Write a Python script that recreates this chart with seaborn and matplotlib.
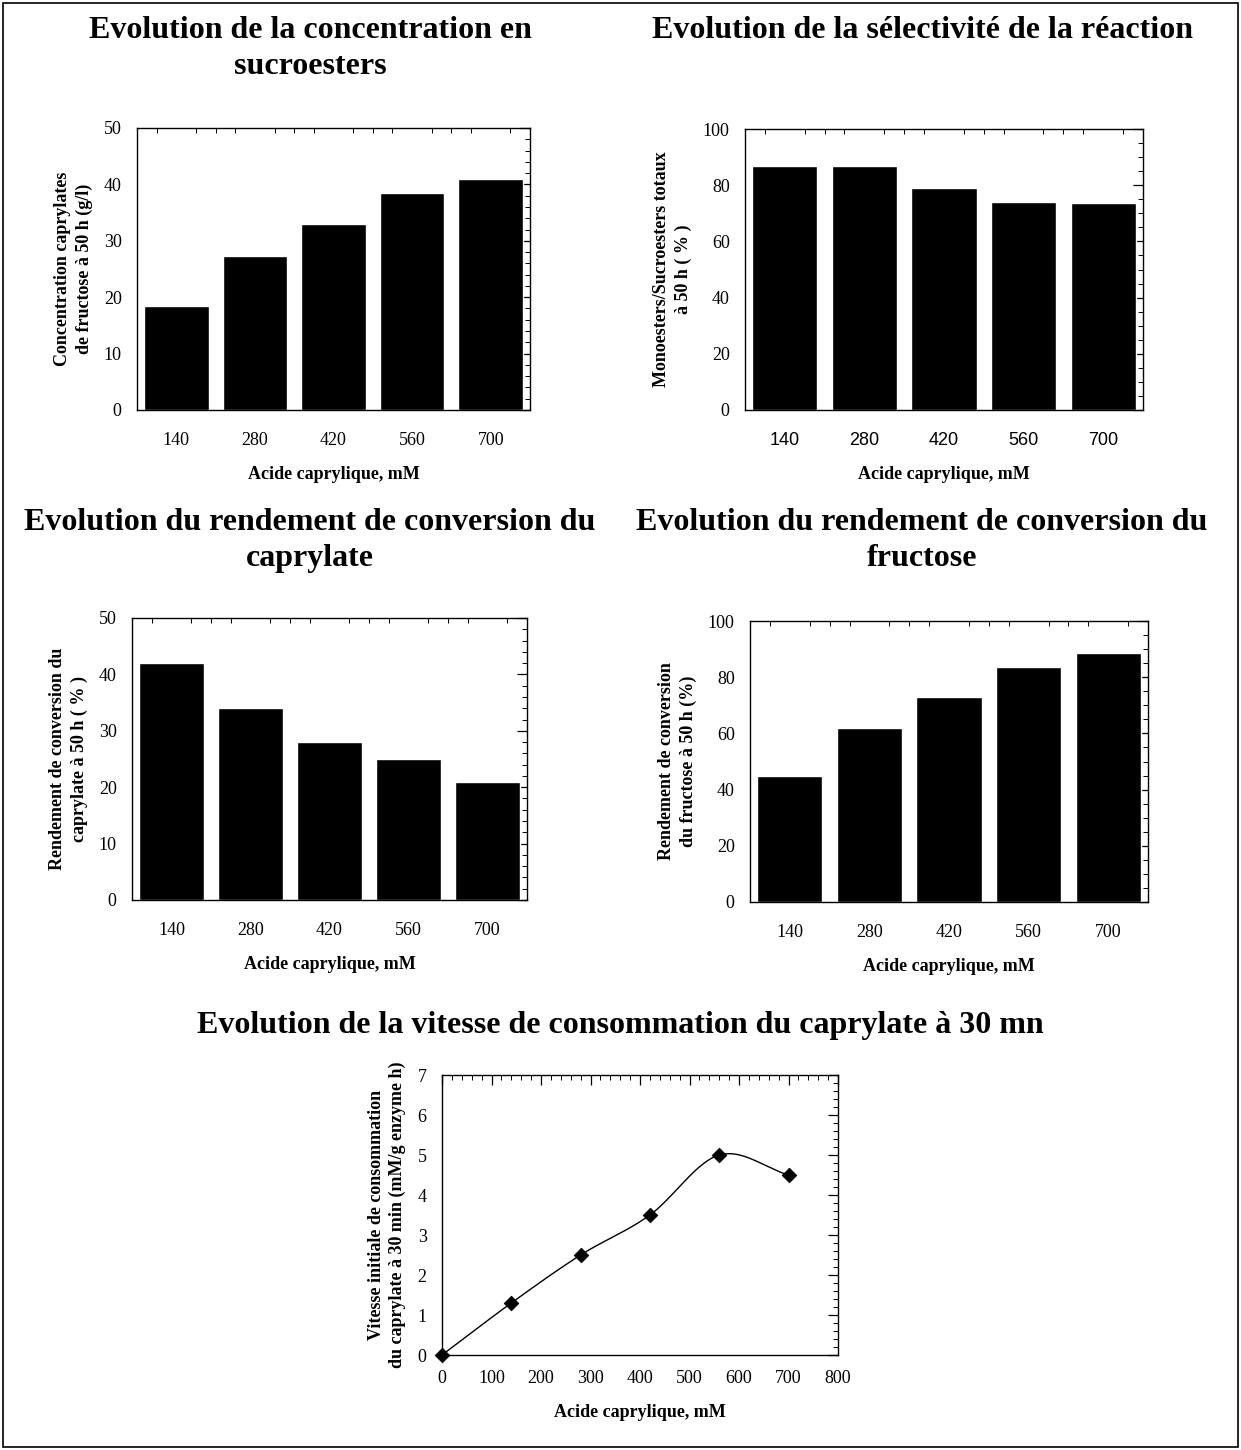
import numpy as np
import matplotlib
matplotlib.use("Agg")
import matplotlib.pyplot as plt
import seaborn as sns

sns.set_theme(style="white")
plt.rcParams['font.family'] = ['Liberation Serif', 'DejaVu Serif']
plt.rcParams['text.color'] = 'black'
plt.rcParams['axes.labelcolor'] = 'black'
plt.rcParams['xtick.color'] = 'black'
plt.rcParams['ytick.color'] = 'black'

# data
conc_labels = ["140", "280", "420", "560", "700"]
sucroesters = [18.5, 27.3, 33.0, 38.5, 41.0]
selectivite = [87.0, 87.0, 79.0, 74.0, 73.8]
rdt_caprylate = [42.0, 34.0, 28.0, 25.0, 21.0]
rdt_fructose = [45.0, 62.0, 73.0, 83.6, 88.7]
vit_x = [0, 140, 280, 420, 560, 700]
vit_y = [0.0, 1.3, 2.5, 3.5, 5.0, 4.5]

W, H = 1241, 1450
fig = plt.figure(figsize=(W / 100, H / 100), dpi=100)


def box(l, r, t, b):
    return [l / W, 1 - b / H, (r - l) / W, (b - t) / H]


def style_axes(ax):
    for s in ax.spines.values():
        s.set_color("black")
        s.set_linewidth(1.0)
    ax.tick_params(which="both", direction="in", top=True, right=True,
                   colors="black", labelsize=13)
    ax.tick_params(which="major", length=7, width=0.9, pad=11)
    ax.tick_params(which="minor", length=3.5, width=0.7)


def bar_panel(rect, vals, ymax, ystep, yminor, ylabel, sans_ticks=False):
    ax = fig.add_axes(box(*rect))
    sns.barplot(x=conc_labels, y=vals, color="black", saturation=1,
                width=0.82, ax=ax)
    ax.set_xlim(-0.5, 4.5)
    ax.set_ylim(0, ymax)
    ax.set_yticks(np.arange(0, ymax + 0.1, ystep))
    ax.set_yticks(np.arange(0, ymax + 0.1, yminor), minor=True)
    ax.set_xticks(np.arange(-0.5, 4.6, 0.25), minor=True)
    style_axes(ax)
    ax.tick_params(axis="x", which="major", length=0, pad=16)
    if sans_ticks:
        for t in ax.get_xticklabels():
            t.set_family("Liberation Sans")
    ax.set_xlabel("Acide caprylique, mM", fontsize=13, fontweight="bold",
                  labelpad=12)
    ax.set_ylabel(ylabel, fontsize=13, fontweight="bold", labelpad=8,
                  linespacing=1.3)
    return ax


bar_panel((137, 530, 128, 410), sucroesters, 50, 10, 2,
          "Concentration caprylates\nde fructose à 50 h (g/l)")
bar_panel((745, 1143, 129, 410), selectivite, 100, 20, 5,
          "Monoesters/Sucroesters totaux\nà 50 h ( % )", sans_ticks=True)
bar_panel((132, 527, 618, 900), rdt_caprylate, 50, 10, 2,
          "Rendement de conversion du\ncaprylate à 50 h ( % )")
bar_panel((750, 1148, 621, 902), rdt_fructose, 100, 20, 5,
          "Rendement de conversion\ndu fructose à 50 h (%)")

# smooth curve through the measured points (Catmull-Rom / Hermite)
x = np.array(vit_x, float)
y = np.array(vit_y, float)
n = len(x)
m = np.zeros(n)
m[0] = (y[1] - y[0]) / (x[1] - x[0])
m[-1] = (y[-1] - y[-2]) / (x[-1] - x[-2])
for i in range(1, n - 1):
    m[i] = (y[i + 1] - y[i - 1]) / (x[i + 1] - x[i - 1])
xs, ys = [], []
for i in range(n - 1):
    hseg = x[i + 1] - x[i]
    t = np.linspace(0, 1, 40)
    h00 = 2 * t ** 3 - 3 * t ** 2 + 1
    h10 = t ** 3 - 2 * t ** 2 + t
    h01 = -2 * t ** 3 + 3 * t ** 2
    h11 = t ** 3 - t ** 2
    xs.extend(x[i] + t * hseg)
    ys.extend(h00 * y[i] + h10 * hseg * m[i] + h01 * y[i + 1]
              + h11 * hseg * m[i + 1])

ax5 = fig.add_axes(box(442, 838, 1075, 1355))
sns.lineplot(x=xs, y=ys, color="black", linewidth=1.0, ax=ax5, sort=False)
sns.scatterplot(x=vit_x, y=vit_y, marker="D", s=55, color="black",
                edgecolor="black", ax=ax5, zorder=3, clip_on=False)
ax5.set_xlim(0, 800)
ax5.set_ylim(0, 7)
ax5.set_xticks(np.arange(0, 801, 100))
ax5.set_xticks(np.arange(0, 801, 20), minor=True)
ax5.set_yticks(np.arange(0, 8, 1))
ax5.set_yticks(np.arange(0, 7.01, 0.2), minor=True)
style_axes(ax5)
ax5.set_xlabel("Acide caprylique, mM", fontsize=13, fontweight="bold",
               labelpad=12)
ax5.set_ylabel("Vitesse initiale de consommation\n"
               "du caprylate à 30 min (mM/g enzyme h)",
               fontsize=13, fontweight="bold", labelpad=8, linespacing=1.3)

# titles
tkw = dict(ha="center", va="top", fontsize=23, fontweight="bold",
           linespacing=1.3, color="black")
fig.text(310 / W, 1 - 16 / H, "Evolution de la concentration en\nsucroesters", **tkw)
fig.text(922 / W, 1 - 16 / H, "Evolution de la sélectivité de la réaction", **tkw)
fig.text(310 / W, 1 - 508 / H, "Evolution du rendement de conversion du\ncaprylate", **tkw)
fig.text(922 / W, 1 - 508 / H, "Evolution du rendement de conversion du\nfructose", **tkw)
fig.text(620 / W, 1 - 1011 / H,
         "Evolution de la vitesse de consommation du caprylate à 30 mn", **tkw)

# frame around the page
fig.add_artist(plt.Rectangle((3 / W, 3 / H), 1 - 6 / W, 1 - 6 / H,
                             transform=fig.transFigure, fill=False,
                             edgecolor="black", linewidth=1.2))

fig.savefig("out.png", dpi=100, facecolor="white")
